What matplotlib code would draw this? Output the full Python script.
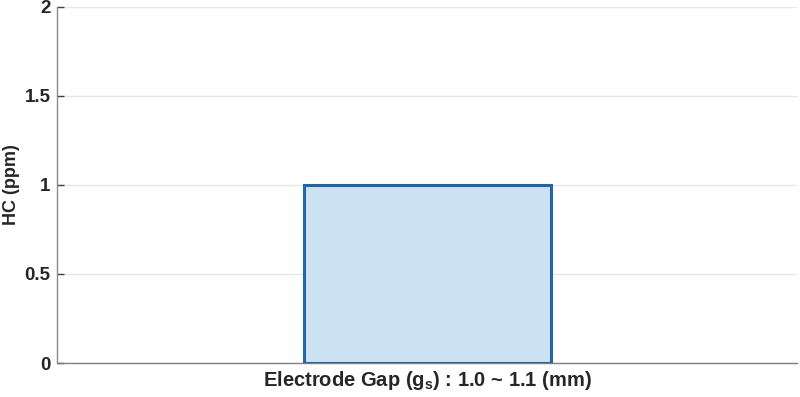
import matplotlib
matplotlib.use("Agg")
import matplotlib.pyplot as plt

categories = ["Electrode Gap (g$_{s}$) : 1.0 ~ 1.1 (mm)"]
values = [1.0]
yticks = [0, 0.5, 1, 1.5, 2]
ytick_labels = ["0", "0.5", "1", "1.5", "2"]

plt.rcParams['font.family'] = ['Liberation Sans', 'DejaVu Sans']
plt.rcParams['font.weight'] = 'bold'
plt.rcParams['mathtext.fontset'] = 'custom'
plt.rcParams['mathtext.rm'] = 'Liberation Sans:bold'
plt.rcParams['mathtext.default'] = 'rm'

fig = plt.figure(figsize=(8, 3.97), dpi=100)
ax = fig.add_axes([57.5/800, 34/397, 739.5/800, 356.5/397])

x = list(range(len(categories)))
ax.bar(x, values, width=1.0, color='#cce1f1', edgecolor='#2166a6', linewidth=2.2, zorder=3)

ax.set_xlim(-1.5, 1.5)
ax.set_ylim(0, 2)
ax.set_yticks(yticks)
ax.set_yticklabels(ytick_labels, fontsize=13.5, fontweight='bold', color='#262626')
ax.set_xticks(x)
ax.set_xticklabels(categories, fontsize=14.5, fontweight='bold', color='#262626')
ax.set_ylabel("HC (ppm)", fontsize=13, fontweight='bold', color='#262626')
ax.yaxis.set_label_coords(-37/739.5, 0.5)

ax.grid(axis='y', color='#e6e6e6', linewidth=1.0, zorder=0)
ax.tick_params(axis='y', direction='in', length=5, width=1, color='#404040', pad=5)
ax.tick_params(axis='x', direction='in', length=5, width=0.8, color='#808080', pad=4)
ax.spines['top'].set_visible(False)
ax.spines['right'].set_visible(False)
ax.spines['left'].set_color('#8c8c8c')
ax.spines['bottom'].set_color('#808080')
ax.spines['left'].set_linewidth(1.0)
ax.spines['bottom'].set_linewidth(1.0)

fig.savefig("out.png", dpi=100)
